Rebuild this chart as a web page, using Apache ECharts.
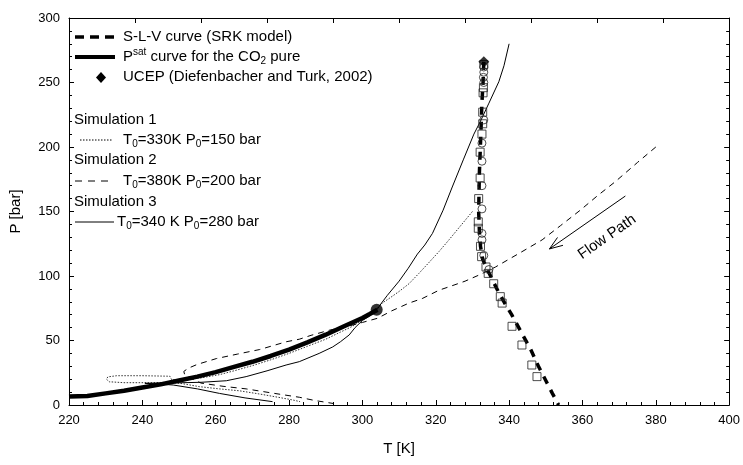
<!DOCTYPE html>
<html><head><meta charset="utf-8">
<script src="https://cdn.jsdelivr.net/npm/echarts@6/dist/echarts.min.js"></script>
<style>html,body{margin:0;padding:0;background:#fff}#c{width:743px;height:465px}</style>
</head><body><div id="c"></div>
<script>
// ---- data (T [K], P [bar]) ----
const xTicks = [220,240,260,280,300,320,340,360,380,400];
const yTicks = [0,50,100,150,200,250,300];
const slvCurve = [[333.1,266],[332.9,250],[332.6,235],[332.3,210],[331.9,180],[331.7,150],[331.9,135],[332.2,123],[332.8,113],[333.9,106],[335.8,95],[337.2,87],[339,78],[340.7,70],[343.2,57],[345.9,43],[348,30],[350,19],[351.8,9],[353.5,0]];
const psatCurve = [[220,6.5],[225,7],[230,9],[235,11],[240,13.5],[245,16],[250,19],[255,22],[260,25.5],[265,29.5],[270,33.5],[275,38],[280,43],[285,48.5],[290,54.5],[295,61],[300,67.5],[302,70.5],[304.1,73.8]];
const criticalPoint = [[303.9,73.8]];
const ucep = [[333.1,266]];
const expSquares = [[333.1,264],[333.0,246],[332.9,242],[332.8,227],[332.8,218],[332.6,210],[332.1,196],[332.1,176],[331.7,160],[331.6,142],[331.6,137],[332.2,123],[332.5,115],[333.7,107],[334.3,102],[335.8,94],[337.6,84],[338.1,79],[340.8,61],[343.5,46.5],[346.2,31],[347.6,22]];
const expCircles = [[333.1,262],[333.1,258],[333.0,254],[333.1,250],[333.1,221],[332.6,203],[332.6,189],[332.6,170],[332.6,152],[332.6,133],[332.6,128],[333.1,116],[334.5,105]];
const sim1 = [[330,150],[326.5,138],[323.6,128],[320.9,119],[318,110],[315.4,102],[312.7,94],[310,88],[307.5,83],[305.4,79],[304,75],[302,71],[300,66],[297.3,61],[294,56.5],[290,51],[285,45.5],[280,40],[275,35],[270,30.5],[265,26.5],[261,23.5],[256,21],[252,20],[248,19.6],[247.5,22.3],[240,22.7],[233,22.7],[230.6,21.8],[230.2,20],[231,18],[235,17.3],[242,17.3],[247.5,17.6],[251,16.5],[255.6,14.2],[261,12.5],[266.5,11],[272,8.5],[277,6],[281,3.9],[283,2.6]];
const sim2 = [[380,200],[375,188],[368.9,173],[364,162],[359.4,151],[354,139],[349,128],[343,118],[336.3,107],[332,101],[328,96],[324,92],[320.9,89],[316.3,82.5],[312.7,79],[308,73],[304.1,67.2],[300,64],[296,61],[291,58],[286,54],[282.8,51],[279.2,49],[272,43],[266,39.5],[260.2,36],[255,31.5],[252.5,28.5],[251.3,26],[251.6,23],[253,21],[256,17],[262,14.5],[268.3,12.5],[276,9],[282.8,6],[287,3.5],[292,1.2]];
const sim3 = [[340,280],[338.6,263],[337.2,250.6],[334.5,234],[332.2,220],[330.4,210],[327.5,190],[324.5,169],[322,151],[319.1,133],[317,124],[315,117],[312.5,106],[310,96],[306.8,85],[305.2,79],[304,74],[302,69],[300,65.5],[298,60],[296.4,54.3],[294,49],[291.9,45],[288.2,40],[282.8,33.6],[279.2,31],[274,26.5],[268.3,22],[262.9,18.8],[256,17.6],[250,17.2],[244,17],[240.7,16.8],[244,16.3],[248.4,15.5],[255,12.5],[261,9],[268,5.5],[275.5,2.6]];
const flowArrow = [[371.7,162],[351,121]];

const FONT = '"Liberation Sans", Arial, sans-serif';
const chart = echarts.init(document.getElementById('c'), null, {renderer:'canvas'});
const axisCommon = {
  axisLine:{show:true, onZero:false, lineStyle:{color:'#000', width:1}},
  splitLine:{show:false},
  axisTick:{show:true, inside:true, length:5, lineStyle:{color:'#000'}},
  minorTick:{show:true, splitNumber:5, length:3, lineStyle:{color:'#000'}}
};
const openSym = {color:'rgba(255,255,255,0)', borderColor:'#222', borderWidth:1};
const rich = {
  n:{fontSize:15, fontFamily:FONT, color:'#000', lineHeight:19},
  sub:{fontSize:10, fontFamily:FONT, color:'#000', lineHeight:19, verticalAlign:'bottom'},
  sup:{fontSize:10, fontFamily:FONT, color:'#000', lineHeight:19, verticalAlign:'top'}
};
function txt(x,y,t){ return {type:'text', x:x, y:y, style:{text:t, rich:rich, fill:'#000', font:'15px '+FONT, verticalAlign:'middle', align:'left'}, z:100}; }
function ln(x1,y1,x2,y2,w,dash){ return {type:'line', shape:{x1:x1,y1:y1,x2:x2,y2:y2}, style:{stroke:'#000', lineWidth:w, lineDash:dash||null}, z:100}; }

const option = {
  animation:false,
  backgroundColor:'#fff',
  textStyle:{fontFamily:FONT},
  grid:{left:69, right:12, top:18, bottom:60},
  xAxis:[
    Object.assign({type:'value', min:220, max:400, interval:20, position:'bottom',
      axisLabel:{color:'#000', fontSize:13, fontFamily:FONT, margin:9},
      name:'T [K]', nameLocation:'middle', nameGap:36,
      nameTextStyle:{color:'#000', fontSize:15, fontFamily:FONT}}, axisCommon),
    Object.assign({type:'value', min:220, max:400, interval:18, position:'top',
      axisLabel:{show:false}}, axisCommon, {minorTick:{show:false}})
  ],
  yAxis:[
    Object.assign({type:'value', min:0, max:300, interval:50, position:'left',
      axisLabel:{color:'#000', fontSize:13, fontFamily:FONT, margin:9},
      name:'P [bar]', nameLocation:'middle', nameGap:46,
      nameTextStyle:{color:'#000', fontSize:15, fontFamily:FONT}}, axisCommon),
    Object.assign({type:'value', min:0, max:300, interval:50, position:'right',
      axisLabel:{show:false}}, axisCommon)
  ],
  series:[
    {type:'line', name:'Sim1', data:sim1, symbol:'none', lineStyle:{color:'#333', width:1, type:[1.5,1.5]}, z:3},
    {type:'line', name:'Sim2', data:sim2, symbol:'none', lineStyle:{color:'#000', width:1, type:[6,5]}, z:3},
    {type:'line', name:'Sim3', data:sim3, symbol:'none', lineStyle:{color:'#000', width:1}, z:3},
    {type:'line', name:'Psat', data:psatCurve, symbol:'none', lineStyle:{color:'#000', width:4.5}, z:4},
    {type:'line', name:'SLV', data:slvCurve, symbol:'none', lineStyle:{color:'#000', width:3.5, type:[8,7]}, z:4},
    {type:'scatter', name:'squares', data:expSquares, symbol:'rect', symbolSize:8, itemStyle:openSym, z:5},
    {type:'scatter', name:'circles', data:expCircles, symbol:'circle', symbolSize:8, itemStyle:openSym, z:5},
    {type:'scatter', name:'critical', data:criticalPoint, symbol:'circle', symbolSize:12, itemStyle:{color:'#000'}, z:6},
    {type:'scatter', name:'UCEP', data:ucep, symbol:'diamond', symbolSize:11, itemStyle:{color:'#000'}, z:6}
  ]
};
chart.setOption(option);

const tail = chart.convertToPixel({xAxisIndex:0, yAxisIndex:0}, flowArrow[0]);
const tip = chart.convertToPixel({xAxisIndex:0, yAxisIndex:0}, flowArrow[1]);
const dx = tail[0]-tip[0], dy = tail[1]-tip[1], L = Math.hypot(dx,dy);
const ux = dx/L, uy = dy/L, hl = 14, a = 20*Math.PI/180;
const h1 = [tip[0]+hl*(ux*Math.cos(a)-uy*Math.sin(a)), tip[1]+hl*(ux*Math.sin(a)+uy*Math.cos(a))];
const h2 = [tip[0]+hl*(ux*Math.cos(-a)-uy*Math.sin(-a)), tip[1]+hl*(ux*Math.sin(-a)+uy*Math.cos(-a))];
const ang = Math.atan2(-(tail[1]-tip[1]), tail[0]-tip[0]);

chart.setOption({graphic:[
  ln(75,37,115,37,3.5,[9,6]), txt(123,37,'{n|S-L-V curve (SRK model)}'),
  ln(75,57,115,57,4), txt(123,57,'{n|P}{sup|sat}{n| curve for the CO}{sub|2}{n| pure}'),
  {type:'polygon', shape:{points:[[101,72],[106,77.5],[101,83],[96,77.5]]}, style:{fill:'#000'}, z:100},
  txt(123,77,'{n|UCEP (Diefenbacher and Turk, 2002)}'),
  txt(74,120,'{n|Simulation 1}'),
  ln(80,140,113,140,1,[1.5,1.5]), txt(123,140,'{n|T}{sub|0}{n|=330K P}{sub|0}{n|=150 bar}'),
  txt(74,160,'{n|Simulation 2}'),
  ln(75,181,112,181,1,[7,6]), txt(123,181,'{n|T}{sub|0}{n|=380K P}{sub|0}{n|=200 bar}'),
  txt(74,202,'{n|Simulation 3}'),
  ln(75,222,114,222,1), txt(117,222,'{n|T}{sub|0}{n|=340 K P}{sub|0}{n|=280 bar}'),
  {type:'polyline', shape:{points:[tail, tip]}, style:{stroke:'#000', lineWidth:1}, z:100},
  {type:'polyline', shape:{points:[h1, tip, h2]}, style:{stroke:'#000', lineWidth:1, fill:null}, z:100},
  {type:'text', x:607, y:237, rotation:ang, style:{text:'Flow Path', font:'15px '+FONT, fill:'#000', align:'center', verticalAlign:'middle'}, z:100}
]});
</script></body></html>
